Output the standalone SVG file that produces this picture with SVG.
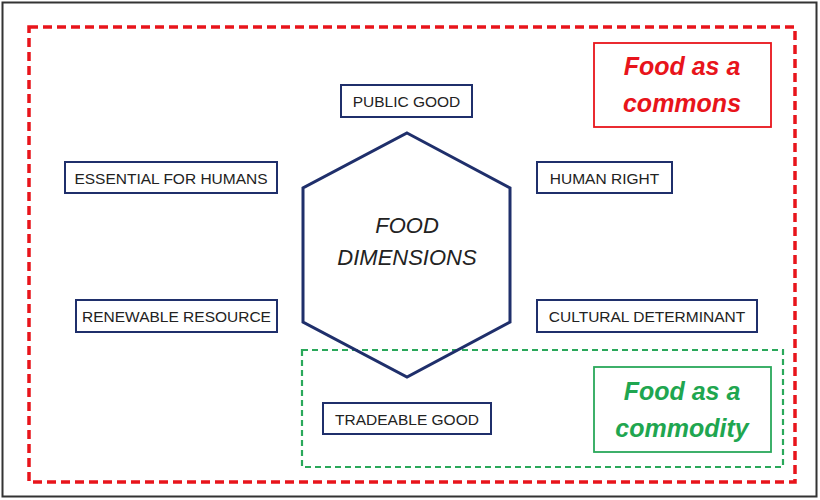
<svg xmlns="http://www.w3.org/2000/svg" width="820" height="500" viewBox="0 0 820 500">
<style>
.node rect{fill:#fff;stroke:#1f2f6b;stroke-width:2}
.node text{font-family:"Liberation Sans",Arial,sans-serif;font-size:15.5px;fill:#222;text-anchor:middle}
.big{font-family:"Liberation Sans",Arial,sans-serif;font-size:25px;font-weight:bold;font-style:italic;text-anchor:middle}
</style>
<rect x="0" y="0" width="820" height="500" fill="#fff"/>
<rect x="2.5" y="2.5" width="814" height="494" fill="none" stroke="#333" stroke-width="2"/>
<g id="commons-region">
<rect x="29" y="27" width="766" height="455" fill="none" stroke="#e8141b" stroke-width="3.5" stroke-dasharray="9,5"/>
</g>
<g id="commodity-region">
<rect x="302" y="350" width="481" height="117" fill="none" stroke="#2aa85a" stroke-width="2.2" stroke-dasharray="6,4"/>
</g>
<g id="center">
<polygon points="407,133 510,188 510,322 407,377 303,322 303,188" fill="none" stroke="#1f2f6b" stroke-width="3"/>
<text x="407" y="233" font-family="Liberation Sans,Arial,sans-serif" font-size="22" font-style="italic" fill="#222" text-anchor="middle">FOOD</text>
<text x="407" y="265" font-family="Liberation Sans,Arial,sans-serif" font-size="22" font-style="italic" fill="#222" text-anchor="middle">DIMENSIONS</text>
</g>
<g id="connectors"></g>
<g id="public-good" class="node"><rect x="341" y="85" width="131" height="32"/><text x="406.5" y="107">PUBLIC GOOD</text></g>
<g id="essential" class="node"><rect x="65" y="162" width="212" height="31"/><text x="171" y="183.5">ESSENTIAL FOR HUMANS</text></g>
<g id="human-right" class="node"><rect x="537" y="162" width="135" height="31"/><text x="604.5" y="183.5">HUMAN RIGHT</text></g>
<g id="renewable" class="node"><rect x="76" y="300" width="201" height="32"/><text x="176.5" y="321.5">RENEWABLE RESOURCE</text></g>
<g id="cultural" class="node"><rect x="537" y="300" width="220" height="32"/><text x="647" y="321.5">CULTURAL DETERMINANT</text></g>
<g id="tradeable" class="node"><rect x="323" y="403" width="168" height="31"/><text x="407" y="424.5">TRADEABLE GOOD</text></g>
<g id="food-commons">
<rect x="594" y="43" width="177" height="84" fill="#fff" stroke="#e8141b" stroke-width="1.8"/>
<text class="big" x="682" y="75" fill="#e8141b">Food as a</text>
<text class="big" x="682" y="112" fill="#e8141b">commons</text>
</g>
<g id="food-commodity">
<rect x="594" y="367" width="177" height="85" fill="#fff" stroke="#2aa85a" stroke-width="1.8"/>
<text class="big" x="682" y="400" fill="#1fa650">Food as a</text>
<text class="big" x="682" y="437" fill="#1fa650">commodity</text>
</g>
</svg>
